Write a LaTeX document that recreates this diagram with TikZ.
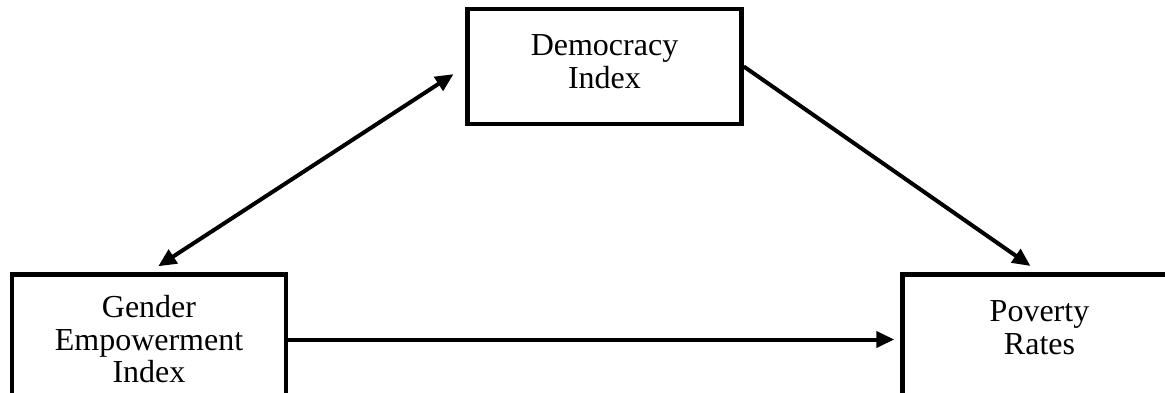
\documentclass[tikz,border=0pt]{standalone}
\usepackage{fontspec}
\setmainfont{Liberation Serif}
\usetikzlibrary{arrows.meta, positioning}

\begin{document}
\begin{tikzpicture}[
  font=\fontsize{16pt}{16.25pt}\selectfont,
  box/.style={draw, line width=2.25pt, align=center, minimum width=137pt, inner sep=0pt},
  arrow/.style={-{Triangle[length=9pt,width=8pt]}, line width=2pt}
]
\useasboundingbox (-74.5pt,-26.25pt) rectangle (508pt,169.75pt);
\node[box, minimum height=65pt] (gender) at (0,0) {Gender\\Empowerment\\Index};
\node[box, minimum height=65pt, text depth=12pt, right=306pt of gender] (poverty) {Poverty\\Rates};
\node[box, minimum height=57.5pt, text depth=5pt, anchor=south west] (democracy)
  at ([shift={(88.5pt,73pt)}]gender.north east) {Democracy\\Index};

\draw[arrow, {Triangle[length=9pt,width=8pt]}-{Triangle[length=9pt,width=8pt]},
  shorten <=5.5pt, shorten >=7pt] (gender.north) -- (democracy.west);
\draw[arrow, shorten >=5.5pt] (democracy.east) -- (poverty.north);
\draw[arrow, shorten >=3pt] (gender.east) -- (poverty.west);
\end{tikzpicture}
\end{document}
